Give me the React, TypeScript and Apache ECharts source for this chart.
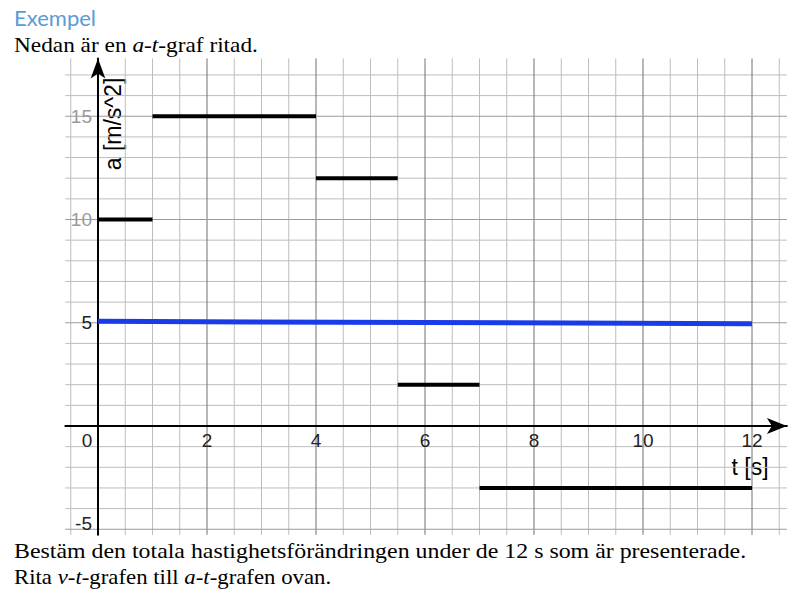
import React, { useEffect, useRef } from "react";
import * as echarts from "echarts";

// ---- data ----
const segStart = [0, 1, 4, 5.5, 7];
const segEnd = [1, 4, 5.5, 7, 12];
const segAccel = [10, 15, 12, 2, -3];
const blueT = [0, 12];
const blueA = [5.07, 4.95];
const xLabelValues = [0, 2, 4, 6, 8, 10, 12];
const yLabelValues = [-5, 5, 10, 15];
const vMinor = [-0.5, 0.5, 1, 1.5, 2.5, 3, 3.5, 4.5, 5, 5.5, 6.5, 7, 7.5, 8.5, 9, 9.5, 10.5, 11, 11.5, 12.5];
const vMajor = [2, 4, 6, 8, 10, 12];
const hMinor = [-4, -3, -2, -1, 1, 2, 3, 4, 6, 7, 8, 9, 11, 12, 13, 14, 16, 17];
const hMajor = [-5, 5, 10, 15];

const X_MIN = -0.6;
const X_MAX = 12.64;
const Y_MIN = -5.27;
const Y_MAX = 17.8;
const PX_X = 54.5;
const PX_Y = 20.65;
const X0 = 98;
const Y0 = 426;

function gridSeries(values: number[], vertical: boolean, color: string) {
  return {
    type: "custom",
    silent: true,
    clip: false,
    z: 1,
    data: values.map((v) => (vertical ? [v, 0] : [0, v])),
    renderItem: (_p: any, api: any) => {
      let a, b;
      if (vertical) {
        const x = api.value(0);
        a = api.coord([x, Y_MIN]);
        b = api.coord([x, Y_MAX]);
      } else {
        const y = api.value(1);
        a = api.coord([X_MIN, y]);
        b = api.coord([X_MAX, y]);
      }
      return {
        type: "line",
        shape: { x1: a[0], y1: a[1], x2: b[0], y2: b[1] },
        style: { stroke: color, lineWidth: 1 },
      };
    },
  };
}

export default function App() {
  const ref = useRef<HTMLDivElement>(null);
  useEffect(() => {
    if (!ref.current) return;
    const chart = echarts.init(ref.current, undefined, { renderer: "svg" });
    const serif = "'Liberation Serif', serif";
    const sans = "'Liberation Sans', Arial, sans-serif";
    const segSeries = segStart.map((s, i) => ({
      type: "line",
      z: 5,
      symbol: "none",
      silent: true,
      lineStyle: { color: "#000", width: 4, cap: "butt" },
      data: [
        [s, segAccel[i]],
        [segEnd[i], segAccel[i]],
      ],
    }));
    const gridLeft = X0 + X_MIN * PX_X;
    const gridRight = X0 + X_MAX * PX_X;
    const gridTop = Y0 - Y_MAX * PX_Y;
    const gridBottom = Y0 - Y_MIN * PX_Y;
    const option: any = {
      animation: false,
      grid: {
        left: gridLeft,
        right: 808 - gridRight,
        top: gridTop,
        bottom: 589 - gridBottom,
      },
      xAxis: {
        type: "value",
        position: "bottom",
        offset: -(gridBottom - Y0),
        min: X_MIN,
        max: X_MAX,
        z: 3,
        splitLine: { show: false },
        axisTick: { show: false },
        axisLine: {
          onZero: false,
          symbol: ["none", "arrow"],
          symbolSize: [12, 20],
          lineStyle: { color: "#000", width: 2 },
        },
        axisLabel: {
          customValues: xLabelValues,
          margin: 5,
          fontSize: 19,
          fontFamily: sans,
          color: "#222",
          formatter: (v: number) => (v === 0 ? "{z|0}" : String(v)),
          rich: { z: { fontSize: 19, fontFamily: sans, color: "#222", padding: [0, 22, 0, 0] } },
        },
      },
      yAxis: {
        type: "value",
        position: "left",
        offset: -(X0 - gridLeft),
        min: Y_MIN,
        max: Y_MAX,
        z: 3,
        splitLine: { show: false },
        axisTick: { show: false },
        axisLine: {
          onZero: false,
          symbol: ["none", "arrow"],
          symbolSize: [11, 20],
          lineStyle: { color: "#000", width: 2 },
        },
        axisLabel: {
          customValues: yLabelValues,
          margin: 6,
          fontSize: 19,
          fontFamily: sans,
          formatter: (v: number) => (v === -5 ? "{m|-5}" : v === 5 ? "{d|5}" : "{g|" + v + "}"),
          rich: {
            m: { fontSize: 19, fontFamily: sans, color: "#222", padding: [0, 0, 12, 0] },
            d: { fontSize: 19, fontFamily: sans, color: "#222" },
            g: { fontSize: 19, fontFamily: sans, color: "#9a9a9a" },
          },
        },
      },
      graphic: [
        { type: "text", left: 14, top: 6, style: { text: "Exempel", fill: "#5b9bd5", font: "22px Lato, sans-serif" } },
        {
          type: "text",
          x: 14,
          y: 34,
          scaleX: 1.11,
          style: {
            text: "{n|Nedan är en }{i|a}{n|-}{i|t}{n|-graf ritad.}",
            rich: {
              n: { font: "21px " + serif, fill: "#000" },
              i: { font: "italic 21px " + serif, fill: "#000" },
            },
          },
        },
        {
          type: "text",
          x: 14,
          y: 540,
          scaleX: 1.137,
          style: {
            text: "Bestäm den totala hastighetsförändringen under de 12 s som är presenterade.",
            font: "21px " + serif,
            fill: "#000",
          },
        },
        {
          type: "text",
          x: 14,
          y: 566,
          scaleX: 1.086,
          style: {
            text: "{n|Rita }{i|v}{n|-}{i|t}{n|-grafen till }{i|a}{n|-}{i|t}{n|-grafen ovan.}",
            rich: {
              n: { font: "21px " + serif, fill: "#000" },
              i: { font: "italic 21px " + serif, fill: "#000" },
            },
          },
        },
        {
          type: "text",
          x: 113,
          y: 124,
          rotation: Math.PI / 2,
          style: { text: "a [m/s^2]", font: "23px " + sans, fill: "#000", align: "center", verticalAlign: "middle" },
        },
        {
          type: "text",
          x: 750,
          y: 467,
          style: { text: "t [s]", font: "23px " + sans, fill: "#000", align: "center", verticalAlign: "middle" },
        },
      ],
      series: [
        gridSeries(vMinor, true, "#bdbdbd"),
        gridSeries(hMinor, false, "#bdbdbd"),
        gridSeries(vMajor, true, "#707070"),
        gridSeries(hMajor, false, "#9a9a9a"),
        ...segSeries,
        {
          type: "line",
          z: 6,
          symbol: "none",
          silent: true,
          lineStyle: { color: "#1a3ce8", width: 5 },
          data: blueT.map((t, i) => [t, blueA[i]]),
        },
      ],
    };
    chart.setOption(option);
    return () => chart.dispose();
  }, []);
  return <div ref={ref} style={{ position: "fixed", left: 0, top: 0, width: 808, height: 589, background: "#fff" }} />;
}
